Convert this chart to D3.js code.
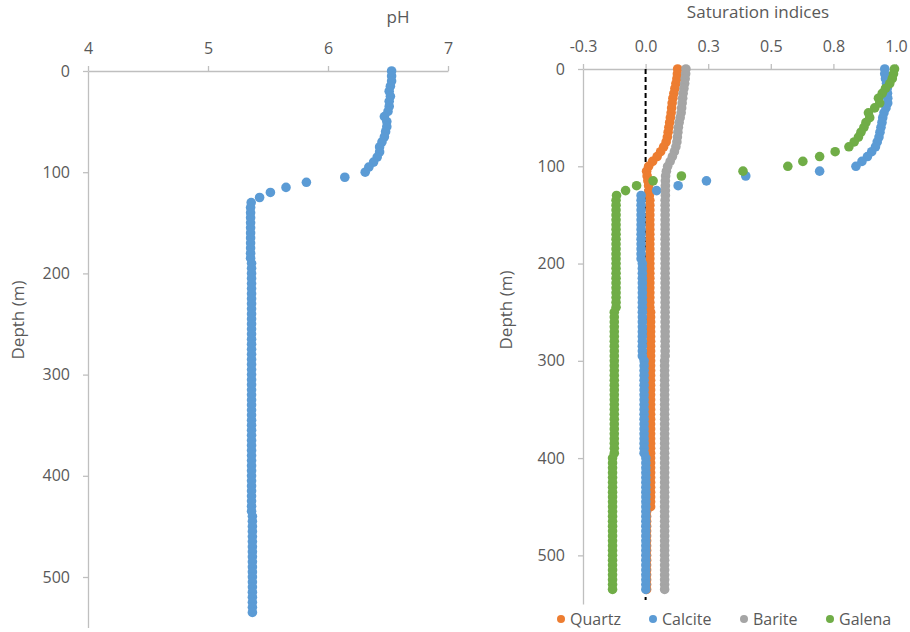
<!DOCTYPE html>
<html>
<head>
<meta charset="utf-8">
<script src="https://cdn.jsdelivr.net/npm/d3@7"></script>
<style>
  html, body { margin: 0; padding: 0; background: #fff; }
  svg { display: block; font-family: "Open Sans", "Liberation Sans", sans-serif; }
</style>
</head>
<body>
<svg id="chart" width="910" height="632"></svg>
<script>
// ---------- DATA ----------
const depths = [
  0,5,10,15,20,25,30,35,40,45,
  50,55,60,65,70,75,80,85,90,95,
  100,105,110,115,120,125,130,135,140,145,
  150,155,160,165,170,175,180,185,190,195,
  200,205,210,215,220,225,230,235,240,245,
  250,255,260,265,270,275,280,285,290,295,
  300,305,310,315,320,325,330,335,340,345,
  350,355,360,365,370,375,380,385,390,395,
  400,405,410,415,420,425,430,435,440,445,
  450,455,460,465,470,475,480,485,490,495,
  500,505,510,515,520,525,530,535];

const pH = [
  6.53,6.53,6.53,6.52,6.51,6.52,6.51,6.51,6.50,6.47,
  6.49,6.49,6.48,6.47,6.45,6.43,6.43,6.41,6.38,6.34,
  6.31,6.14,5.82,5.65,5.52,5.43,5.36,5.355,5.355,5.355,
  5.355,5.355,5.355,5.355,5.355,5.355,5.355,5.355,5.363,5.363,
  5.363,5.363,5.363,5.363,5.363,5.363,5.363,5.363,5.363,5.363,
  5.363,5.363,5.363,5.363,5.363,5.363,5.363,5.363,5.363,5.363,
  5.363,5.363,5.363,5.363,5.363,5.363,5.363,5.363,5.363,5.363,
  5.363,5.363,5.363,5.363,5.363,5.363,5.363,5.363,5.363,5.363,
  5.363,5.363,5.363,5.363,5.363,5.363,5.363,5.363,5.37,5.37,
  5.37,5.37,5.37,5.37,5.37,5.37,5.37,5.37,5.37,5.37,
  5.37,5.37,5.37,5.37,5.37,5.37,5.37,5.37];

const quartz = [
  0.128,0.127,0.125,0.121,0.117,0.113,0.109,0.106,0.104,0.102,
  0.099,0.096,0.093,0.090,0.087,0.082,0.072,0.060,0.046,0.028,
  0.012,0.004,0.006,0.009,0.012,0.014,0.015,0.017,0.017,0.017,
  0.017,0.017,0.017,0.017,0.017,0.017,0.017,0.017,0.017,0.017,
  0.017,0.017,0.017,0.017,0.017,0.017,0.017,0.017,0.017,0.017,
  0.020,0.020,0.020,0.020,0.020,0.020,0.020,0.020,0.020,0.020,
  0.020,0.020,0.020,0.020,0.020,0.020,0.020,0.020,0.020,0.020,
  0.020,0.020,0.020,0.020,0.020,0.020,0.020,0.020,0.020,0.020,
  0.020,0.020,0.020,0.020,0.020,0.020,0.020,0.020,0.020,0.020,
  0.020,0.004,0.004,0.004,0.004,0.004,0.004,0.004,0.004,0.004,
  0.004,0.004,0.004,0.004,0.004,0.004,0.004,0.004];

const calcite = [
  0.955,0.955,0.958,0.962,0.965,0.966,0.967,0.967,0.960,0.952,
  0.947,0.944,0.940,0.936,0.932,0.925,0.918,0.903,0.886,0.864,
  0.840,0.695,0.400,0.243,0.130,0.044,-0.018,-0.018,-0.018,-0.018,
  -0.018,-0.018,-0.018,-0.018,-0.018,-0.018,-0.018,-0.018,-0.018,-0.018,
  -0.013,-0.013,-0.013,-0.013,-0.013,-0.013,-0.013,-0.013,-0.013,-0.013,
  -0.013,-0.013,-0.013,-0.013,-0.013,-0.013,-0.013,-0.013,-0.013,-0.013,
  -0.006,-0.006,-0.006,-0.006,-0.006,-0.006,-0.006,-0.006,-0.006,-0.006,
  -0.006,-0.006,-0.006,-0.006,-0.006,-0.006,-0.006,-0.006,-0.006,-0.006,
  0.001,0.001,0.001,0.001,0.001,0.001,0.001,0.001,0.001,0.001,
  0.001,0.001,0.001,0.001,0.001,0.001,0.001,0.001,0.001,0.001,
  0.001,0.001,0.001,0.001,0.001,0.001,0.001,0.001];

const barite = [
  0.161,0.160,0.158,0.156,0.153,0.150,0.148,0.146,0.144,0.142,
  0.138,0.134,0.131,0.129,0.127,0.125,0.121,0.115,0.107,0.098,
  0.088,0.083,0.080,0.079,0.079,0.079,0.079,0.078,0.078,0.078,
  0.078,0.078,0.078,0.078,0.078,0.078,0.078,0.078,0.078,0.078,
  0.078,0.078,0.078,0.078,0.078,0.078,0.078,0.078,0.078,0.078,
  0.078,0.078,0.078,0.078,0.078,0.078,0.078,0.078,0.078,0.078,
  0.076,0.076,0.076,0.076,0.076,0.076,0.076,0.076,0.076,0.076,
  0.076,0.076,0.076,0.076,0.076,0.076,0.076,0.076,0.076,0.076,
  0.076,0.076,0.076,0.076,0.076,0.076,0.076,0.076,0.076,0.076,
  0.076,0.076,0.076,0.076,0.076,0.076,0.076,0.076,0.076,0.076,
  0.076,0.076,0.076,0.076,0.076,0.076,0.076,0.076];

const galena = [
  0.994,0.990,0.985,0.975,0.958,0.945,0.930,0.935,0.915,0.890,
  0.895,0.880,0.872,0.860,0.850,0.833,0.812,0.757,0.695,0.628,
  0.568,0.389,0.143,0.030,-0.036,-0.080,-0.116,-0.118,-0.118,-0.118,
  -0.118,-0.118,-0.118,-0.118,-0.118,-0.118,-0.118,-0.118,-0.118,-0.118,
  -0.118,-0.118,-0.118,-0.118,-0.118,-0.118,-0.118,-0.118,-0.118,-0.118,
  -0.125,-0.125,-0.125,-0.125,-0.125,-0.125,-0.125,-0.125,-0.125,-0.125,
  -0.125,-0.125,-0.125,-0.125,-0.125,-0.125,-0.125,-0.125,-0.125,-0.125,
  -0.125,-0.125,-0.125,-0.125,-0.125,-0.125,-0.125,-0.125,-0.125,-0.125,
  -0.132,-0.132,-0.132,-0.132,-0.132,-0.132,-0.132,-0.132,-0.132,-0.132,
  -0.132,-0.132,-0.132,-0.132,-0.132,-0.132,-0.132,-0.132,-0.132,-0.132,
  -0.132,-0.132,-0.132,-0.132,-0.132,-0.132,-0.132,-0.132];

const seriesNames = ["Quartz","Calcite","Barite","Galena"];
const seriesColors = ["#ED7D31","#5B9BD5","#A5A5A5","#70AD47"];
const seriesValues = [quartz, calcite, barite, galena];

const pHTicks = [4,5,6,7];
const depthTicks = [0,100,200,300,400,500];
const siTicks = [-0.25,0,0.25,0.5,0.75,1.0];
const siTickLabels = ["-0.3","0.0","0.3","0.5","0.8","1.0"];

// ---------- DRAW ----------
const svg = d3.select("#chart");
const axisColor = "#BFBFBF";
const textColor = "#595959";
const tickFont = 16;
const titleFont = 17;
const r = 4.8;

function styleAxis(g) {
  g.select(".domain").attr("stroke", axisColor).attr("stroke-width", 1.3);
  g.selectAll(".tick line").attr("stroke", axisColor).attr("stroke-width", 1.3);
  g.selectAll(".tick text").attr("fill", textColor).attr("font-size", tickFont)
    .attr("font-family", '"Open Sans", sans-serif');
}

// Left panel (pH)
const xL = d3.scaleLinear().domain([4,7]).range([88,448]);
const yL = d3.scaleLinear().domain([0,550]).range([71,627.6]);

svg.append("g").attr("transform", `translate(0,${yL(0)})`)
  .call(d3.axisTop(xL).tickValues(pHTicks).tickFormat(d3.format("d")).tickSize(5).tickSizeOuter(0).tickPadding(12))
  .call(styleAxis);
svg.append("g").attr("transform", `translate(${xL(4)},0)`)
  .call(d3.axisLeft(yL).tickValues(depthTicks).tickFormat(d3.format("d")).tickSize(5).tickSizeOuter(0).tickPadding(13))
  .call(styleAxis);

svg.append("g").selectAll("circle").data(depths.map((d,i)=>({d, v:pH[i]})))
  .join("circle").attr("cx", p=>xL(p.v)).attr("cy", p=>yL(p.d)).attr("r", r).attr("fill", "#5B9BD5");

svg.append("text").attr("x", 398).attr("y", 23).attr("text-anchor","middle")
  .attr("fill", textColor).attr("font-size", titleFont).text("pH");
svg.append("text").attr("transform", "translate(24,320) rotate(-90)").attr("text-anchor","middle")
  .attr("fill", textColor).attr("font-size", titleFont).text("Depth (m)");

// Right panel (saturation indices)
const xR = d3.scaleLinear().domain([-0.25,1.0]).range([583,896]);
const yR = d3.scaleLinear().domain([0,550]).range([69,604]);

svg.append("g").attr("transform", `translate(0,${yR(0)})`)
  .call(d3.axisTop(xR).tickValues(siTicks).tickFormat((d,i)=>siTickLabels[i]).tickSize(5).tickSizeOuter(0).tickPadding(12))
  .call(styleAxis);
svg.append("g").attr("transform", `translate(${xR(-0.25)},0)`)
  .call(d3.axisLeft(yR).tickValues(depthTicks).tickFormat(d3.format("d")).tickSize(5).tickSizeOuter(0).tickPadding(13))
  .call(styleAxis);

// zero reference dashed line
svg.append("line").attr("x1", xR(0)).attr("x2", xR(0)).attr("y1", yR(0)).attr("y2", yR(550) - 4)
  .attr("stroke", "#000").attr("stroke-width", 2).attr("stroke-dasharray", "5,3");

seriesValues.forEach((vals, si) => {
  svg.append("g").selectAll("circle").data(depths.map((d,i)=>({d, v:vals[i]})))
    .join("circle").attr("cx", p=>xR(p.v)).attr("cy", p=>yR(p.d)).attr("r", r).attr("fill", seriesColors[si]);
});

svg.append("text").attr("x", 758).attr("y", 18).attr("text-anchor","middle")
  .attr("fill", textColor).attr("font-size", titleFont).text("Saturation indices");
svg.append("text").attr("transform", "translate(512,310) rotate(-90)").attr("text-anchor","middle")
  .attr("fill", textColor).attr("font-size", titleFont).text("Depth (m)");

// Legend
const legendX = [561, 653, 744, 830];
const lg = svg.append("g");
seriesNames.forEach((name, i) => {
  lg.append("circle").attr("cx", legendX[i]).attr("cy", 619).attr("r", 4).attr("fill", seriesColors[i]);
  lg.append("text").attr("x", legendX[i] + 9).attr("y", 624.5).attr("fill", textColor)
    .attr("font-size", tickFont).text(name);
});
</script>
</body>
</html>
